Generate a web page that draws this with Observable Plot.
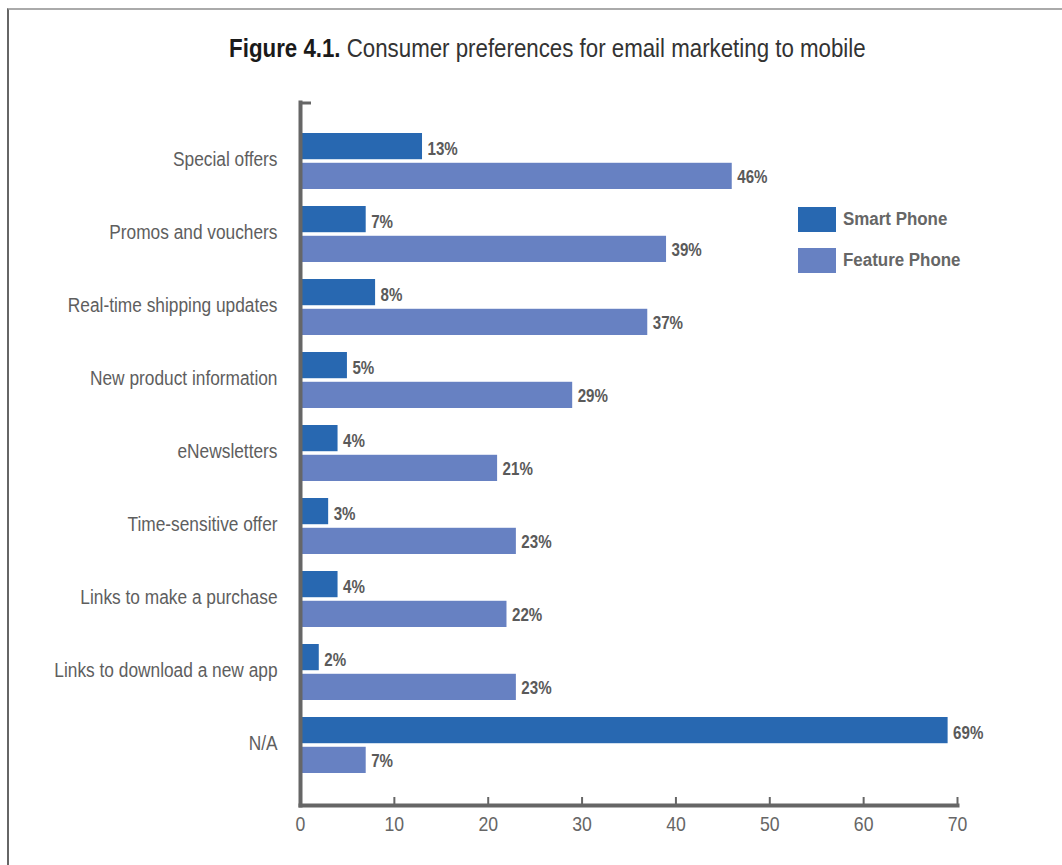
<!DOCTYPE html>
<html><head><meta charset="utf-8">
<script src="https://cdn.jsdelivr.net/npm/d3@7"></script>
<script src="https://cdn.jsdelivr.net/npm/@observablehq/plot@0.6"></script>
<style>
html,body{margin:0;padding:0;background:#fff;}
body{width:1062px;height:865px;overflow:hidden;position:relative;font-family:"Liberation Sans",Arial,sans-serif;}
#frame{position:absolute;left:7px;top:8px;width:1100px;height:900px;border-top:2px solid #aaa;border-left:2px solid #666;box-sizing:border-box;}
#title{position:absolute;top:33px;left:16px;width:1062px;text-align:center;font-size:26px;color:#333;white-space:nowrap;}
#title span{display:inline-block;transform:scaleX(0.857);transform-origin:50% 50%;}
#title b{color:#1a1a1a;}
#chart{position:absolute;left:0;top:92px;}
#legend{position:absolute;left:798px;top:207px;font-weight:bold;font-size:18px;color:#666;}
#legend .row{display:flex;align-items:center;height:25px;margin-bottom:16px;}
#legend .sw{width:38px;height:25px;margin-right:7px;flex:none;}
#legend .lab{display:inline-block;transform:scaleX(0.94);transform-origin:0 50%;white-space:nowrap;}
</style></head>
<body>
<div id="frame"></div>
<div id="title"><span><b>Figure 4.1.</b> Consumer preferences for email marketing to mobile</span></div>
<div id="chart"></div>
<div id="legend"></div>
<script>
const categories = ["Special offers","Promos and vouchers","Real-time shipping updates","New product information","eNewsletters","Time-sensitive offer","Links to make a purchase","Links to download a new app","N/A"];
const smartPhone = [13,7,8,5,4,3,4,2,69];
const featurePhone = [46,39,37,29,21,23,22,23,7];
const seriesNames = ["Smart Phone","Feature Phone"];
const seriesColors = ["#2868b1","#6781c2"];
const xTicks = [0,10,20,30,40,50,60,70];

const smartData = categories.map((c,i)=>({category:c, value:smartPhone[i]}));
const featureData = categories.map((c,i)=>({category:c, value:featurePhone[i]}));

const W = 1062, H = 773, mT = 10, mB = 60, mL = 300, mR = 105;
const pIn = 0.23, pOut = 0.4;
const bw = (H - mT - mB) / (categories.length - pIn + 2*pOut) * (1 - pIn);
const half = bw/2 + 1.5;

const capMark = (index, scales, values, dims) => {
  const p = d3.create("svg:path")
    .attr("d", `M${scales.x(0)},${dims.marginTop + 1} h11`)
    .attr("stroke", "#666").attr("stroke-width", 3).attr("fill","none");
  return p.node();
};

const labelFont = {fontSize: 18, fontWeight: "bold", fill: "#5a5a5a"};

const chart = Plot.plot({
  width: W, height: H,
  marginTop: mT, marginBottom: mB, marginLeft: mL, marginRight: mR,
  style: {fontFamily: '"Liberation Sans",Arial,sans-serif', background: "transparent"},
  x: {domain: [0,70]},
  y: {domain: categories, paddingInner: pIn, paddingOuter: pOut, align: 0.5},
  marks: [
    Plot.barX(smartData, {y: "category", x: "value", fill: seriesColors[0], insetBottom: half, insetLeft: 2}),
    Plot.barX(featureData, {y: "category", x: "value", fill: seriesColors[1], insetTop: half, insetLeft: 2}),
    Plot.text(smartData, {y: "category", x: "value", text: d => `${d.value}%`, textAnchor: "start", dx: 5, dy: -bw/4 + 2, ...labelFont, ariaLabel: "value"}),
    Plot.text(featureData, {y: "category", x: "value", text: d => `${d.value}%`, textAnchor: "start", dx: 5, dy: bw/4 + 2, ...labelFont, ariaLabel: "value"}),
    Plot.axisY({tickSize: 0, tickPadding: 23, fontSize: 20, fill: "#5e5e5e", label: null, dy: -2}),
    Plot.axisX({ticks: xTicks, tickSize: -8, tickPadding: 19, fontSize: 21, fill: "#666", stroke: "#666", strokeWidth: 2, label: null, tickFormat: d3.format("d")}),
    Plot.frame({anchor: "bottom", stroke: "#666", strokeWidth: 4}),
    Plot.frame({anchor: "left", stroke: "#666", strokeWidth: 4}),
    capMark
  ]
});
document.getElementById("chart").appendChild(chart);

// smaller percent sign
d3.select(chart).selectAll('g[aria-label="value"] text').each(function(){
  const t = this.textContent;
  const num = t.replace("%","");
  this.textContent = "";
  d3.select(this).append("tspan").text(num);
  d3.select(this).append("tspan").attr("font-size", 14).attr("font-weight","normal").text("%");
});

// condensed lettering (the original uses a condensed grotesque)
d3.select(chart).selectAll("text").each(function(){
  const g = this.closest("g");
  const lab = g ? (g.getAttribute("aria-label") || "") : "";
  const factor = lab.startsWith("y-axis") ? 0.865 : 0.84;
  const len = this.getComputedTextLength();
  if (len > 0) {
    this.setAttribute("textLength", (len * factor).toFixed(2));
    this.setAttribute("lengthAdjust", "spacingAndGlyphs");
  }
});

const legend = d3.select("#legend");
seriesNames.forEach((n,i)=>{
  const r = legend.append("div").attr("class","row");
  r.append("div").attr("class","sw").style("background", seriesColors[i]);
  r.append("span").attr("class","lab").text(n);
});
</script>
</body></html>
